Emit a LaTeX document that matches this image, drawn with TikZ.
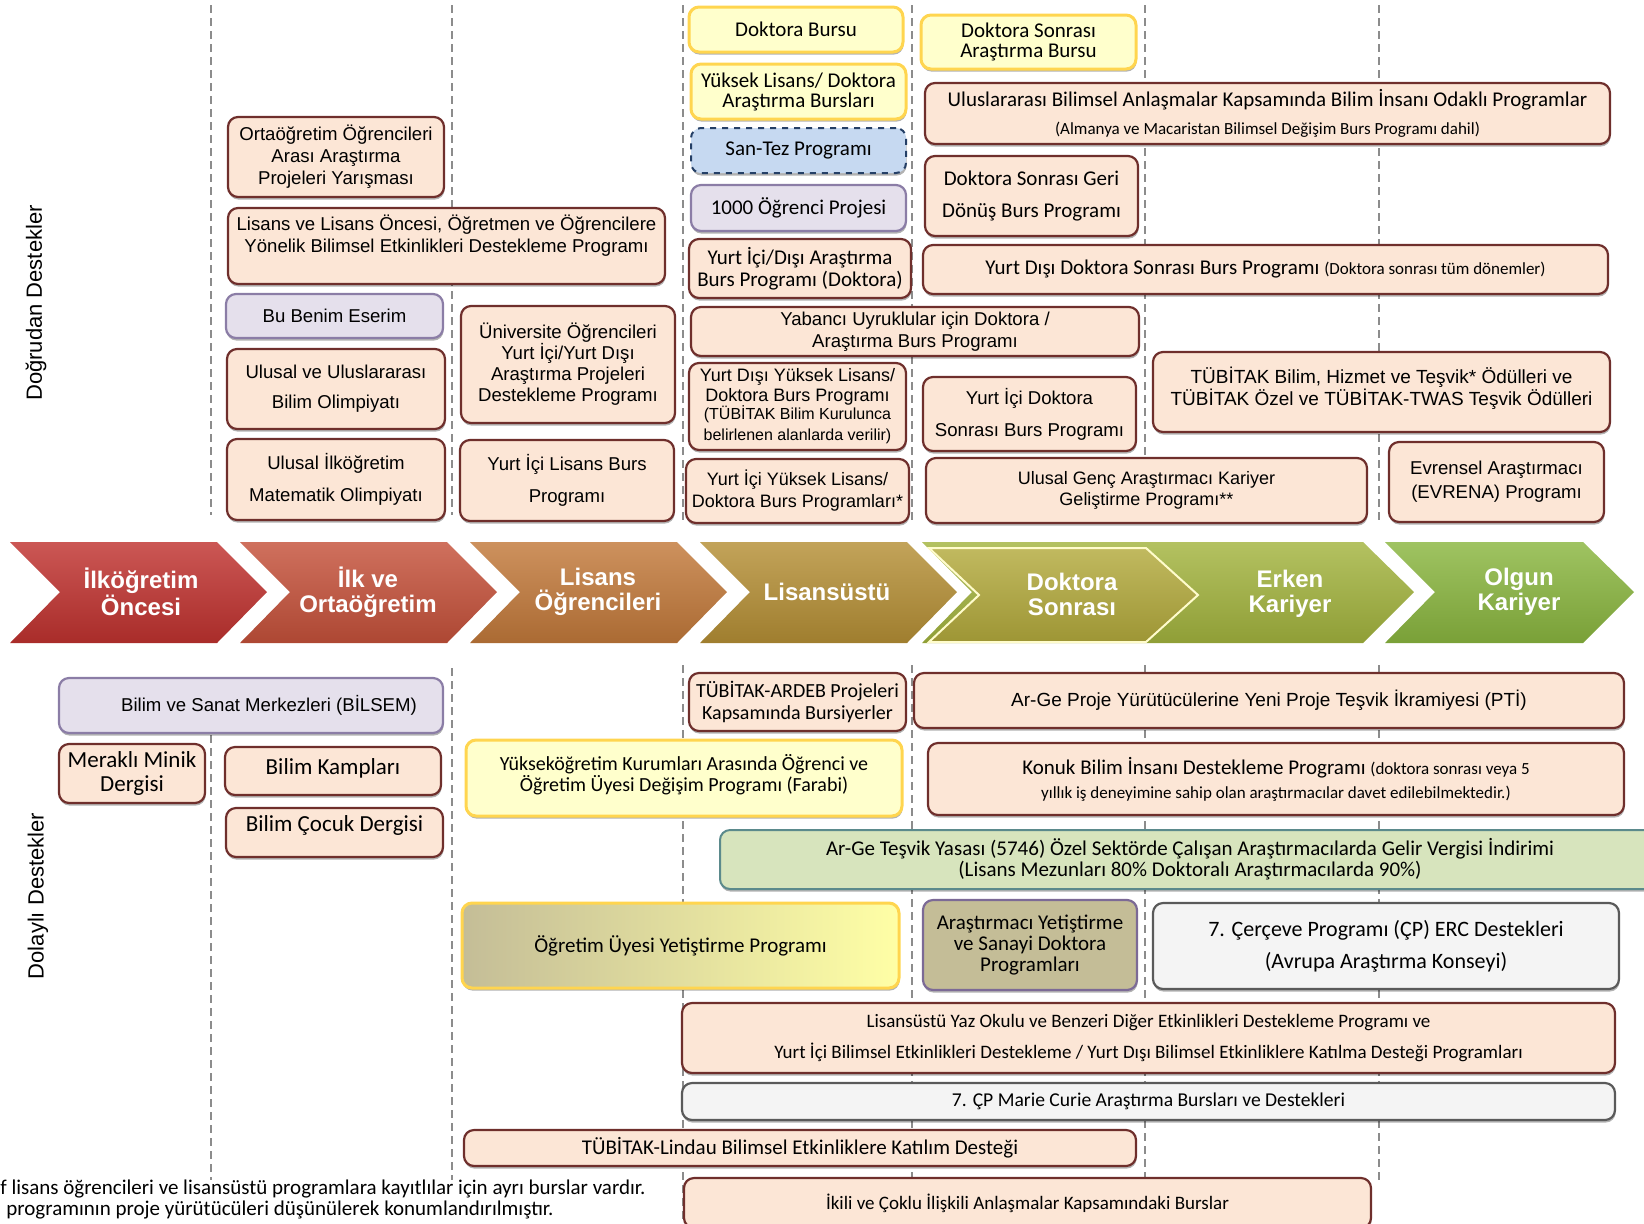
\documentclass[tikz,border=0pt]{standalone}
\usepackage{fontspec}
\setmainfont{Liberation Sans}
\newfontfamily\carlito{Carlito}
\usepackage{tikz}
\usepackage{xcolor}
\usetikzlibrary{fit, shadows}

\definecolor{peachfill}{HTML}{FCE6D6}
\definecolor{peachline}{HTML}{6F2F2C}
\definecolor{yellowfill}{HTML}{FFFFCC}
\definecolor{yellowline}{HTML}{FFD54F}
\definecolor{lilacfill}{HTML}{E5E0EC}
\definecolor{lilacline}{HTML}{8B7DA6}
\definecolor{bluefill}{HTML}{C6D9F1}
\definecolor{blueline}{HTML}{243F66}
\definecolor{greenfill}{HTML}{D7E4BD}
\definecolor{greenline}{HTML}{5B8A8C}
\definecolor{tanfill}{HTML}{C4BD97}
\definecolor{tanline}{HTML}{7C6A96}
\definecolor{greyfill}{HTML}{F4F4F4}
\definecolor{greyline}{HTML}{5A5A5A}
\definecolor{guidegray}{HTML}{8C8C8C}
\definecolor{chA}{HTML}{C0322F}
\definecolor{chB}{HTML}{C5513A}
\definecolor{chC}{HTML}{C2793A}
\definecolor{chD}{HTML}{B58F35}
\definecolor{chE}{HTML}{B3AA3C}
\definecolor{chF}{HTML}{A3B43E}
\definecolor{chG}{HTML}{8AB63F}

\newcommand\calfont{\carlito\fontsize{10.5}{11}\selectfont}
\newcommand\smallcal{\carlito\fontsize{8.5}{10}\selectfont}

\tikzset{
  kutu/.style={rounded corners=5pt, inner sep=0pt, line width=1.1pt,
    drop shadow={shadow xshift=0.3pt, shadow yshift=-1.3pt, fill=black, opacity=0.3}},
  peachbox/.style={kutu, fill=peachfill, draw=peachline},
  yellowbox/.style={kutu, fill=yellowfill, draw=yellowline, line width=1.5pt},
  lilacbox/.style={kutu, fill=lilacfill, draw=lilacline},
  bluebox/.style={kutu, fill=bluefill, draw=blueline, dashed, line width=1pt},
  greenbox/.style={kutu, fill=greenfill, draw=greenline, line width=1pt},
  tanbox/.style={kutu, fill=tanfill, draw=tanline},
  greybox/.style={kutu, fill=greyfill, draw=greyline},
  fadebox/.style={kutu, left color=tanfill, right color=yellow!35, draw=yellowline, line width=1.5pt},
  txt/.style={align=center, inner sep=0pt},
  ctxt/.style={txt, font=\calfont},
  guide/.style={guidegray, line width=0.8pt, dash pattern=on 4pt off 2.5pt},
  chev/.style={top color=#1!82!white, middle color=#1, bottom color=#1!88!black},
  chevtext/.style={text=white, align=center, font=\bfseries\fontsize{12}{12.5}\selectfont},
  sidetext/.style={rotate=90, font=\fontsize{11}{13}\selectfont},
  footnote/.style={anchor=west, inner sep=0pt, font=\carlito\fontsize{10.5}{11}\selectfont},
}

\begin{document}
\begin{tikzpicture}[x=0.5pt, y=-0.5pt, font=\fontsize{9.3}{11}\selectfont]
\useasboundingbox (0,0) rectangle (1644,1223);
\clip (0,0) rectangle (1644,1223);

\draw[guide] (211,5) -- (211,515) (452,5) -- (452,515) (683,5) -- (683,520)
  (912,5) -- (912,520) (1145,5) -- (1145,520) (1379,5) -- (1379,520);
\draw[guide] (211,735) -- (211,1180) (452,668) -- (452,1180) (683,665) -- (683,1223)
  (912,665) -- (912,1223) (1145,665) -- (1145,1223) (1379,665) -- (1379,1180);

\node[sidetext] (dogrudan) at (36,303) {Doğrudan Destekler};
\node[sidetext] (dolayli) at (38,896) {Dolaylı Destekler};

% dogrudan destekler
\node[peachbox, fit={(228,117) (444,197)}, label={[txt]center:{Ortaöğretim Öğrencileri\\Arası Araştırma\\Projeleri Yarışması}}] (ortaog) {};
\node[peachbox, fit={(228,208) (665,284)}, label={[txt, yshift=5pt]center:{Lisans ve Lisans Öncesi, Öğretmen ve Öğrencilere\\Yönelik Bilimsel Etkinlikleri Destekleme Programı}}] (lisanson) {};
\node[lilacbox, fit={(226,294) (443,338)}, label={[txt]center:{Bu Benim Eserim}}] (eserim) {};
\node[peachbox, fit={(227,349) (445,429)}, label={[txt]center:{Ulusal ve Uluslararası\\[4pt]Bilim Olimpiyatı}}] (olimp) {};
\node[peachbox, fit={(227,439) (445,520)}, label={[txt]center:{Ulusal İlköğretim\\[5pt]Matematik Olimpiyatı}}] (matolimp) {};
\node[peachbox, fit={(461,306) (675,423)}, label={[txt]center:{Üniversite Öğrencileri\\[-0.5pt]Yurt İçi/Yurt Dışı\\[-0.5pt]Araştırma Projeleri\\[-0.5pt]Destekleme Programı}}] (univ) {};
\node[peachbox, fit={(460,440) (674,521)}, label={[txt]center:{Yurt İçi Lisans Burs\\[5pt]Programı}}] (lisburs) {};

\node[yellowbox, fit={(689,7) (903,52)}, label={[ctxt]center:{Doktora Bursu}}] (dokburs) {};
\node[yellowbox, fit={(691,64) (906,119)}, label={[ctxt]center:{Yüksek Lisans/ Doktora\\[-1pt]Araştırma Bursları}}] (ylburs) {};
\node[bluebox, fit={(691,128) (906,173)}, label={[ctxt]center:{San-Tez Programı}}] (santez) {};
\node[lilacbox, fit={(691,185) (906,231)}, label={[ctxt]center:{1000 Öğrenci Projesi}}] (bin) {};
\node[peachbox, fit={(689,239) (911,298)}, label={[ctxt]center:{Yurt İçi/Dışı Araştırma\\Burs Programı (Doktora)}}] (ydarast) {};
\node[peachbox, fit={(691,307) (1139,356)}, label={[txt]center:{Yabancı Uyruklular için Doktora /\\Araştırma Burs Programı}}] (yabanci) {};
\node[peachbox, fit={(689,363) (906,450)}, label={[txt, font=\fontsize{9}{10.5}\selectfont]center:{Yurt Dışı Yüksek Lisans/\\[-0.5pt]Doktora Burs Programı\\[-1.5pt]{\fontsize{8}{9}\selectfont (TÜBİTAK Bilim Kurulunca}\\{\fontsize{8}{9}\selectfont belirlenen alanlarda verilir)}}}] (ydyl) {};
\node[peachbox, fit={(686,459) (909,523)}, label={[txt, font=\fontsize{9}{11}\selectfont]center:{Yurt İçi Yüksek Lisans/\\Doktora Burs Programları*}}] (yiyl) {};

\node[yellowbox, fit={(921,15) (1136,69)}, label={[ctxt]center:{Doktora Sonrası\\[-1pt]Araştırma Bursu}}] (dsarast) {};
\node[peachbox, fit={(925,83) (1610,144)}, label={[ctxt]center:{Uluslararası Bilimsel Anlaşmalar Kapsamında Bilim İnsanı Odaklı Programlar\\[3pt]{\smallcal (Almanya ve Macaristan Bilimsel Değişim Burs Programı dahil)}}}] (uluslar) {};
\node[peachbox, fit={(925,156) (1138,236)}, label={[ctxt]center:{Doktora Sonrası Geri\\[5pt]Dönüş Burs Programı}}] (geridonus) {};
\node[peachbox, fit={(923,245) (1608,294)}, label={[ctxt]center:{Yurt Dışı Doktora Sonrası Burs Programı {\smallcal (Doktora sonrası tüm dönemler)}}}] (yddoksonra) {};
\node[peachbox, fit={(923,377) (1136,451)}, label={[txt]center:{Yurt İçi Doktora\\[5pt]Sonrası Burs Programı}}] (yidoksonra) {};
\node[peachbox, fit={(1153,352) (1610,432)}, label={[txt, yshift=2pt, font=\fontsize{9.5}{11}\selectfont]center:{TÜBİTAK Bilim, Hizmet ve Teşvik* Ödülleri ve\\TÜBİTAK Özel ve TÜBİTAK-TWAS Teşvik Ödülleri}}] (oduller) {};
\node[peachbox, fit={(926,458) (1367,523)}, label={[txt, font=\fontsize{9}{10.5}\selectfont]center:{Ulusal Genç Araştırmacı Kariyer\\Geliştirme Programı**}}] (genc) {};
\node[peachbox, fit={(1389,442) (1604,522)}, label={[txt]center:{Evrensel Araştırmacı\\[1pt](EVRENA) Programı}}] (evrena) {};

% kariyer basamaklari
\shade[chev=chA] (10,542) -- (217,542) -- (267,592) -- (217,643) -- (10,643) -- (60,592) -- cycle;
\shade[chev=chB] (240,542) -- (447,542) -- (497,592) -- (447,643) -- (240,643) -- (290,592) -- cycle;
\shade[chev=chC] (470,542) -- (677,542) -- (727,592) -- (677,643) -- (470,643) -- (520,592) -- cycle;
\shade[chev=chD] (700,542) -- (907,542) -- (957,592) -- (907,643) -- (700,643) -- (750,592) -- cycle;
\shade[chev=chF] (922,542) -- (1363,542) -- (1414,592) -- (1363,643) -- (922,643) -- (972,592) -- cycle;
\shade[chev=chE, draw=white!80!yellow, line width=1pt] (929,548) -- (1146,548) -- (1198,595) -- (1146,642) -- (929,642) -- (979,595) -- cycle;
\shade[chev=chG] (1385,542) -- (1583,542) -- (1634,592) -- (1583,643) -- (1385,643) -- (1435,592) -- cycle;

\node[chevtext] (ilkonce) at (141,592) {İlköğretim\\Öncesi};
\node[chevtext] (ilkorta) at (368,592) {İlk ve\\Ortaöğretim};
\node[chevtext] (lisans) at (598,592) {Lisans\\Öğrencileri};
\node[chevtext] (lisansustu) at (827,592) {Lisansüstü};
\node[chevtext] (doksonra) at (1072,594) {Doktora\\Sonrası};
\node[chevtext] (erken) at (1290,594) {Erken\\Kariyer};
\node[chevtext] (olgun) at (1519,592) {Olgun\\Kariyer};

% dolayli destekler
\node[lilacbox, fit={(59,678) (443,733)}, label={[txt, xshift=9pt]center:{Bilim ve Sanat Merkezleri (BİLSEM)}}] (bilsem) {};
\node[peachbox, fit={(59,744) (205,803)}, label={[txt, font=\carlito\fontsize{11.5}{12}\selectfont]center:{Meraklı Minik\\Dergisi}}] (merakli) {};
\node[peachbox, fit={(225,747) (441,795)}, label={[txt, yshift=1.5pt, font=\carlito\fontsize{11.5}{12}\selectfont]center:{Bilim Kampları}}] (kamp) {};
\node[peachbox, fit={(226,808) (443,857)}, label={[txt, yshift=3.5pt, font=\carlito\fontsize{11.5}{12}\selectfont]center:{Bilim Çocuk Dergisi}}] (cocuk) {};
\node[peachbox, fit={(689,673) (906,731)}, label={[txt, font=\carlito\fontsize{10}{11}\selectfont]center:{TÜBİTAK-ARDEB Projeleri\\Kapsamında Bursiyerler}}] (ardeb) {};
\node[yellowbox, fit={(466,740) (902,816)}, label={[txt, yshift=1.5pt, font=\carlito\fontsize{10}{10.5}\selectfont]center:{Yükseköğretim Kurumları Arasında Öğrenci ve\\Öğretim Üyesi Değişim Programı (Farabi)}}] (farabi) {};
\node[peachbox, fit={(914,673) (1624,728)}, label={[txt, font=\fontsize{9.5}{11}\selectfont]center:{Ar-Ge Proje Yürütücülerine Yeni Proje Teşvik İkramiyesi (PTİ)}}] (pti) {};
\node[peachbox, fit={(928,743) (1624,815)}, label={[ctxt]center:{Konuk Bilim İnsanı Destekleme Programı {\smallcal (doktora sonrası veya 5}\\[1pt]{\smallcal yıllık iş deneyimine sahip olan araştırmacılar davet edilebilmektedir.)}}}] (konuk) {};
\node[greenbox, fit={(720,830) (1660,889)}, label={[ctxt]center:{Ar-Ge Teşvik Yasası (5746) Özel Sektörde Çalışan Araştırmacılarda Gelir Vergisi İndirimi\\[-0.5pt](Lisans Mezunları 80\% Doktoralı Araştırmacılarda 90\%)}}] (argeyasa) {};
\node[fadebox, fit={(462,903) (899,988)}, label={[ctxt]center:{Öğretim Üyesi Yetiştirme Programı}}] (oyp) {};
\node[tanbox, fit={(923,900) (1137,990)}, label={[ctxt]center:{Araştırmacı Yetiştirme\\[-0.5pt]ve Sanayi Doktora\\[-0.5pt]Programları}}] (sanayi) {};
\node[greybox, fit={(1153,903) (1619,989)}, label={[txt, font=\carlito\fontsize{11}{12}\selectfont]center:{7. Çerçeve Programı (ÇP) ERC Destekleri\\[4pt](Avrupa Araştırma Konseyi)}}] (erc) {};
\node[peachbox, fit={(682,1003) (1615,1073)}, label={[txt, font=\carlito\fontsize{9.5}{10.5}\selectfont]center:{Lisansüstü Yaz Okulu ve Benzeri Diğer Etkinlikleri Destekleme Programı ve\\[5pt]Yurt İçi Bilimsel Etkinlikleri Destekleme / Yurt Dışı Bilimsel Etkinliklere Katılma Desteği Programları}}] (yazokulu) {};
\node[greybox, fit={(682,1083) (1615,1120)}, label={[txt, font=\carlito\fontsize{9.8}{11}\selectfont]center:{7. ÇP Marie Curie Araştırma Bursları ve Destekleri}}] (curie) {};
\node[peachbox, fit={(464,1130) (1136,1166)}, label={[ctxt]center:{TÜBİTAK-Lindau Bilimsel Etkinliklere Katılım Desteği}}] (lindau) {};
\node[peachbox, fit={(684,1178) (1371,1228)}, label={[txt, font=\carlito\fontsize{9.5}{10.5}\selectfont]center:{İkili ve Çoklu İlişkili Anlaşmalar Kapsamındaki Burslar}}] (ikili) {};

\node[footnote] (dipnot1) at (0,1189) {f lisans öğrencileri ve lisansüstü programlara  kayıtlılar için ayrı burslar vardır.};
\node[footnote] (dipnot2) at (6,1210) {programının proje yürütücüleri düşünülerek konumlandırılmıştır.};
\end{tikzpicture}
\end{document}
